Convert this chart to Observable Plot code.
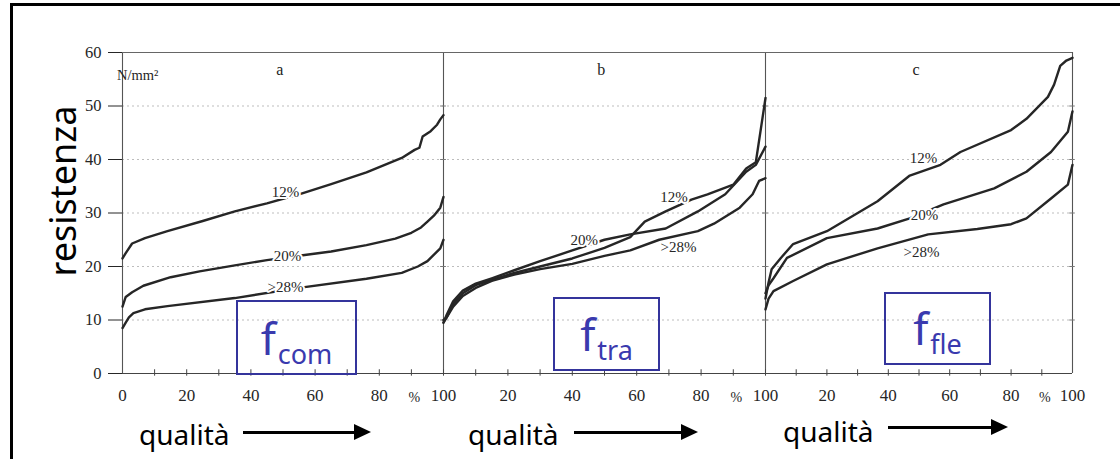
<!DOCTYPE html>
<html><head><meta charset="utf-8">
<script src="https://cdn.jsdelivr.net/npm/d3@7"></script>
<script src="https://cdn.jsdelivr.net/npm/@observablehq/plot@0.6"></script>
<style>
body{margin:0;background:#fff;}
#wrap{position:relative;width:1120px;height:459px;overflow:hidden;background:#fff;}
#chart{position:absolute;left:0;top:0;}
.frame{position:absolute;left:10px;top:3px;width:1140px;height:540px;border:3px solid #000;box-sizing:border-box;}
.ylab{position:absolute;left:62px;top:191px;transform:translate(-50%,-50%) rotate(-90deg);font-family:"Noto Sans",sans-serif;font-size:36px;white-space:nowrap;color:#000;}
.box{position:absolute;border:2.5px solid #34349c;box-sizing:border-box;color:#3a3aae;font-family:"Noto Sans",sans-serif;}
.box .t{position:absolute;left:0;right:0;bottom:6px;text-align:center;white-space:nowrap;line-height:1;}
.box .f{font-size:44px;}
.box sub{font-size:27px;vertical-align:-0.35em;margin-left:2px;}
.q{position:absolute;font-family:"Noto Sans",sans-serif;font-size:28px;color:#000;white-space:nowrap;line-height:1;}
.arrow{position:absolute;height:3px;background:#000;}
.arrow:after{content:"";position:absolute;right:-16px;top:-7px;border-left:17px solid #000;border-top:8.5px solid transparent;border-bottom:8.5px solid transparent;}
</style></head>
<body>
<div id="wrap">
  <div id="chart"></div>
  <div class="frame"></div>
  <div class="ylab">resistenza</div>
  <div class="box" style="left:236px;top:300px;width:121px;height:75px;"><div class="t"><span class="f">f</span><sub>com</sub></div></div>
  <div class="box" style="left:553px;top:297px;width:107px;height:74px;"><div class="t"><span class="f">f</span><sub>tra</sub></div></div>
  <div class="box" style="left:884px;top:292px;width:107px;height:73px;"><div class="t"><span class="f">f</span><sub>fle</sub></div></div>
  <div class="q" style="left:139px;top:420px;">qualità</div>
  <div class="arrow" style="left:243px;top:431px;width:112px;"></div>
  <div class="q" style="left:468px;top:420px;">qualità</div>
  <div class="arrow" style="left:574px;top:431px;width:108px;"></div>
  <div class="q" style="left:783px;top:417px;">qualità</div>
  <div class="arrow" style="left:888px;top:426px;width:104px;"></div>
</div>
<script>
// ---- data: cumulative distributions (x = % of samples, y = N/mm²) ----
const a12_q = [0, 1, 3, 7, 14, 25, 35, 45, 55, 65, 76, 87, 91, 92.5, 93.5, 96, 98, 99, 100];
const a12_v = [21.5, 22.5, 24.3, 25.3, 26.6, 28.5, 30.3, 31.8, 33.5, 35.4, 37.6, 40.3, 41.8, 42.2, 44.3, 45.3, 46.5, 47.5, 48.3];
const a20_q = [0, 1, 3, 6.5, 15, 24, 35, 45, 55, 65, 76, 85, 90, 93, 95, 97, 99, 100];
const a20_v = [12.5, 14.3, 15.2, 16.4, 18, 19.1, 20.2, 21.2, 22, 22.8, 24, 25.2, 26.3, 27.3, 28.4, 29.5, 31, 33];
const a28_q = [0, 1, 2, 3.4, 7, 14, 35, 55, 76, 87, 92, 95, 99, 100];
const a28_v = [8.5, 9.5, 10.5, 11.3, 12, 12.6, 14.1, 16, 17.7, 18.8, 20, 21, 23.4, 25];

const b12_q = [0, 1, 3, 6, 10, 15, 22, 30, 40, 50, 58, 62.5, 69, 77, 82, 90, 94, 97, 100];
const b12_v = [9.5, 10.5, 13, 15, 16.5, 17.5, 18.8, 20, 21.5, 23.5, 25.5, 28.4, 30.3, 32.5, 33.5, 35.3, 38.3, 39.5, 51.5];
const b20_q = [0, 1, 3, 6, 10, 15, 22, 30, 40, 50, 58, 69, 79, 87.5, 94, 97, 100];
const b20_v = [9.5, 11, 13.5, 15.5, 16.8, 17.8, 19.3, 21, 23, 25, 26, 27.1, 30.3, 33.5, 37.7, 39, 42.4];
const b28_q = [0, 1, 3, 6, 10, 15, 22, 30, 40, 50, 58, 67, 79, 84, 92, 96, 98, 100];
const b28_v = [10, 10.5, 12.5, 14.5, 16, 17.3, 18.5, 19.5, 20.5, 22, 23, 25, 26.6, 28, 31, 33.5, 36, 36.5];

const c12_q = [0, 1, 2, 5, 9, 20, 36.5, 47, 57, 63.5, 80, 85, 92, 94, 96, 98, 100];
const c12_v = [14, 17, 19.5, 21.6, 24.2, 26.6, 32.2, 37, 39, 41.4, 45.5, 47.6, 51.7, 54, 57.5, 58.5, 59];
const c20_q = [0, 1, 2.6, 7, 20, 36.5, 47, 58, 74.5, 85, 93, 98.5, 100];
const c20_v = [15, 16.5, 17.8, 21.6, 25.3, 27.1, 29, 31.6, 34.6, 37.7, 41.4, 45.2, 49];
const c28_q = [0, 1, 2.6, 9, 20, 36.5, 53, 69, 80, 85, 93, 98.5, 100];
const c28_v = [12, 14, 15.4, 17.3, 20.4, 23.4, 26, 27, 27.9, 29, 32.7, 35.3, 39];

const panelNames = ["a", "b", "c"];
const seriesNames = ["12%", "20%", ">28%"];
const yTicks = [0, 10, 20, 30, 40, 50, 60];
const xTickVals = [0, 20, 40, 60, 80, 100, 120, 140, 160, 180, 200, 220, 240, 260, 280, 300];
const pctMarks = [90, 190, 290];

// curve label positions (panel-relative %, value)
const lblPanel = ["a", "a", "a", "b", "b", "b", "c", "c", "c"];
const lblText = ["12%", "20%", ">28%", "12%", "20%", ">28%", "12%", "20%", ">28%"];
const lblX = [50.8, 51.4, 50.8, 71.6, 43.7, 73, 51.5, 51.8, 50.8];
const lblY = [33.8, 22, 16.1, 32.9, 24.9, 23.7, 40.2, 29.5, 22.6];

// ---- build tables ----
const offset = {a: 0, b: 100, c: 200};
const seriesDefs = [
  ["a", "12%", a12_q, a12_v], ["a", "20%", a20_q, a20_v], ["a", ">28%", a28_q, a28_v],
  ["b", "12%", b12_q, b12_v], ["b", "20%", b20_q, b20_v], ["b", ">28%", b28_q, b28_v],
  ["c", "12%", c12_q, c12_v], ["c", "20%", c20_q, c20_v], ["c", ">28%", c28_q, c28_v]
];
const rows = seriesDefs.flatMap(([p, s, q, v]) => q.map((x, i) => ({key: p + s, panel: p, x: offset[p] + x, y: v[i]})));
const labels = lblText.map((t, i) => ({t, x: offset[lblPanel[i]] + lblX[i], y: lblY[i]}));
const letters = panelNames.map((p) => ({t: p, x: offset[p] + 49, y: 56.8}));
const borderTicks = [100, 200, 300].flatMap((b) => [10, 20, 30, 40, 50].map((y) => ({b, y})));

const serif = "'Liberation Serif', 'Times New Roman', serif";
const chart = Plot.plot({
  width: 1120, height: 459,
  marginLeft: 122, marginRight: 48, marginTop: 52, marginBottom: 86,
  x: {type: "linear", domain: [0, 100, 200, 300], range: [122, 443, 765, 1072]},
  y: {domain: [0, 60]},
  style: {background: "transparent", color: "#262626", fontFamily: serif},
  marks: [
    Plot.ruleY([10, 20, 30, 40, 50], {x1: 0, x2: 300, stroke: "#bdbdbd", strokeDasharray: "2,3", strokeWidth: 1}),
    Plot.ruleX([0, 100, 200, 300], {y1: 0, y2: 60, stroke: "#555", strokeWidth: 1.1}),
    Plot.ruleY([60], {x1: 0, x2: 300, stroke: "#666", strokeWidth: 1.1}),
    Plot.ruleY([0], {x1: 0, x2: 300, stroke: "#444", strokeWidth: 1.1}),
    Plot.ruleX(d3.range(10, 300, 10), {y1: -0.5, y2: 0.7, stroke: "#444"}),
    Plot.ruleY(borderTicks, {y: "y", x1: (d) => d.b - 0.9, x2: (d) => d.b + 0.9, stroke: "#777"}),
    Plot.axisY({ticks: yTicks, label: null, tickSize: 14, tickPadding: 7, fontSize: 16.5, fontFamily: serif}),
    Plot.axisX({ticks: xTickVals, label: null, tickSize: 0, tickPadding: 15, fontSize: 17, fontFamily: serif,
      tickFormat: (v) => (v === 0 ? "0" : v % 100 === 0 ? "100" : String(v % 100))}),
    Plot.text(pctMarks, {x: (d) => d, y: 0, text: () => "%", dy: 24, dx: 3, fontSize: 14, fontFamily: serif, fill: "#262626"}),
    Plot.line(rows, {x: "x", y: "y", z: "key", stroke: "#262626", strokeWidth: 2.4, strokeLinejoin: "round"}),
    Plot.text(labels, {x: "x", y: "y", text: "t", fontSize: 15, fontFamily: serif, fill: "#262626", stroke: "white", strokeWidth: 4}),
    Plot.text(letters, {x: "x", y: "y", text: "t", fontSize: 16, fontFamily: serif, fill: "#222"}),
    Plot.text(["N/mm²"], {x: -1.7, y: 55.7, text: (d) => d, textAnchor: "start", fontSize: 14.5, fontFamily: serif, fill: "#262626"})
  ]
});
document.getElementById("chart").appendChild(chart);
</script>
</body></html>
